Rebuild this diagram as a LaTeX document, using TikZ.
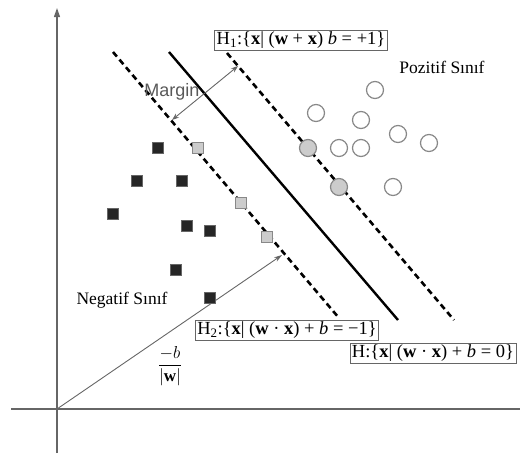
\documentclass[tikz,border=0pt]{standalone}
\usepackage{fontspec}
\setmainfont{Liberation Serif}
\newfontfamily\marginfont{Liberation Sans}
\usetikzlibrary{calc,intersections,arrows.meta}
\definecolor{axisgray}{HTML}{666666}
\definecolor{ptgray}{HTML}{888888}
\definecolor{fillgray}{HTML}{CCCCCC}
\tikzset{
  axisline/.style={draw=axisgray, line width=1.2pt},
  hypdash/.style={draw=black, line width=2.6pt, dash pattern=on 6pt off 4pt},
  hypsolid/.style={draw=black, line width=2.4pt},
  eqbox/.style={draw=axisgray, line width=0.8pt, fill=white, inner xsep=2pt, inner ysep=1.5pt, font=\fontsize{18.5}{20}\selectfont},
  negpt/.style={rectangle, fill=black!85, draw=black!60, minimum size=11pt, inner sep=0pt},
  suppneg/.style={rectangle, fill=fillgray, draw=ptgray, line width=1pt, minimum size=11pt, inner sep=0pt},
  pospt/.style={circle, fill=white, draw=ptgray, line width=1.2pt, minimum size=17pt, inner sep=0pt},
  supppos/.style={circle, fill=fillgray, draw=ptgray, line width=1.2pt, minimum size=17pt, inner sep=0pt},
  classlabel/.style={font=\fontsize{17.5}{19}\selectfont},
}
\begin{document}
\begin{tikzpicture}[x=1pt,y=-1pt]
\useasboundingbox (0,0) rectangle (520,453);
% axes
\coordinate (O) at (57,409);
\coordinate (ytop) at (57,8);
\coordinate (ybot) at (57,453);
\coordinate (xl) at (11,409);
\coordinate (xr) at (520,409);
\draw[axisline] (ybot) -- (O);
\draw[axisline, -{Triangle[length=9pt,width=6pt]}] (O) -- (ytop);
\draw[axisline] (xl) -- (xr);
% hyperplanes
\coordinate (h2a) at (113,52);
\coordinate (h2b) at (339,318);
\coordinate (ha) at (169,52);
\coordinate (hb) at (398,320);
\coordinate (h1a) at (227,53);
\coordinate (h1b) at (454,320);
\draw[hypdash] (h2a) -- (h2b);
\draw[hypsolid] (ha) -- (hb);
\draw[hypdash] (h1a) -- (h1b);
% margin arrow
\coordinate (m1) at (172,120);
\coordinate (m2) at (238,66);
\draw[draw=axisgray, line width=0.9pt, {Stealth[length=7pt,width=5pt]}-{Stealth[length=7pt,width=5pt]}] (m1) -- (m2);
\node[font=\marginfont\fontsize{18}{20}\selectfont, text=black!65, inner sep=0pt] (margin) at (172,92) {Margin};
% vector -b/|w|
\coordinate (wtip) at (282,255);
\draw[draw=axisgray, line width=0.9pt, -{Stealth[length=8pt,width=5pt]}] (O) -- (wtip);
\node[font=\fontsize{17}{19}\selectfont, inner sep=0pt] (frac) at (170,366) {$\displaystyle\frac{-b}{|\mathbf{w}|}$};
% negative points
\node[negpt] (n1) at (158,148) {};
\node[negpt] (n2) at (137,181) {};
\node[negpt] (n3) at (182,181) {};
\node[negpt] (n4) at (113,214) {};
\node[negpt] (n5) at (187,226) {};
\node[negpt] (n6) at (210,231) {};
\node[negpt] (n7) at (176,270) {};
\node[negpt] (n8) at (210,298) {};
\node[suppneg] (s1) at (198,148) {};
\node[suppneg] (s2) at (241,203) {};
\node[suppneg] (s3) at (267,237) {};
% positive points
\node[pospt] (p1) at (375,90) {};
\node[pospt] (p2) at (316,113) {};
\node[pospt] (p3) at (361,120) {};
\node[pospt] (p4) at (398,134) {};
\node[pospt] (p5) at (429,143) {};
\node[pospt] (p6) at (339,148) {};
\node[pospt] (p7) at (361,148) {};
\node[pospt] (p8) at (393,187) {};
\node[supppos] (q1) at (308,148) {};
\node[supppos] (q2) at (339,187) {};
% labels
\node[classlabel] (neg) at (122,300) {Negatif Sınıf};
\node[classlabel] (pos) at (442,67) {Pozitif Sınıf};
\node[eqbox] (eqH1) at (301,40) {H\textsubscript{1}:\{\textbf{x}| (\textbf{w} + \textbf{x}) \textit{b} = +1\}};
\node[eqbox] (eqH2) at (287,330) {H\textsubscript{2}:\{\textbf{x}| (\textbf{w} · \textbf{x}) + \textit{b} = −1\}};
\node[eqbox] (eqH) at (433,353) {H:\{\textbf{x}| (\textbf{w} · \textbf{x}) + \textit{b} = 0\}};
\end{tikzpicture}
\end{document}
